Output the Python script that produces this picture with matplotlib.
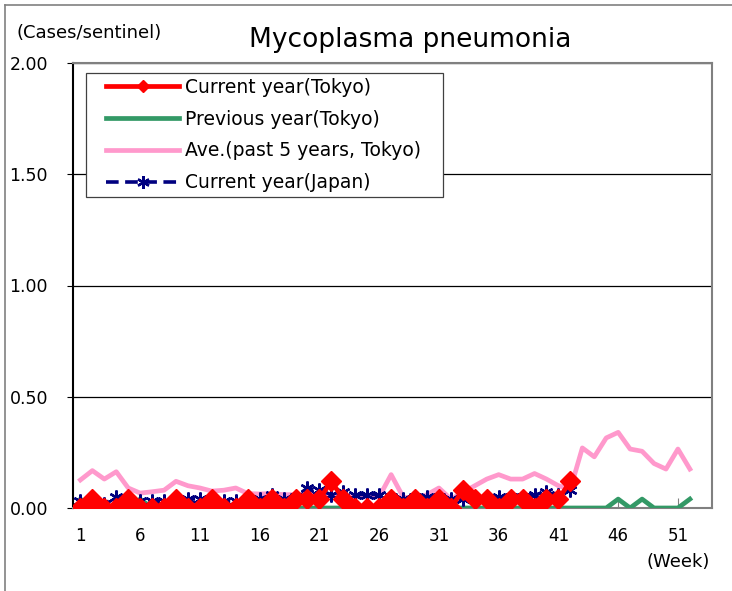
"""Mycoplasma pneumonia weekly sentinel chart (Tokyo vs Japan)."""
import matplotlib
matplotlib.use("Agg")
import matplotlib.pyplot as plt
from matplotlib.lines import Line2D
from matplotlib.patches import Rectangle

# ── Data (cases per sentinel, by week) ────────────────────────────────────────
weeks_all = list(range(1, 53))
weeks_cur = list(range(1, 43))

tokyo_current = [0.00, 0.04, 0.00, 0.00, 0.04, 0.00, 0.00, 0.00, 0.04, 0.00,
                 0.00, 0.04, 0.00, 0.00, 0.04, 0.00, 0.04, 0.00, 0.04, 0.04,
                 0.04, 0.12, 0.04, 0.00, 0.00, 0.00, 0.04, 0.00, 0.04, 0.00,
                 0.04, 0.00, 0.08, 0.04, 0.04, 0.00, 0.04, 0.04, 0.00, 0.04,
                 0.04, 0.12]

tokyo_previous = [0.04, 0.00, 0.00, 0.00, 0.00, 0.04, 0.00, 0.00, 0.00, 0.00,
                  0.00, 0.00, 0.00, 0.00, 0.00, 0.00, 0.00, 0.00, 0.00, 0.00,
                  0.00, 0.00, 0.00, 0.00, 0.00, 0.00, 0.00, 0.00, 0.00, 0.00,
                  0.00, 0.00, 0.00, 0.00, 0.00, 0.00, 0.00, 0.00, 0.00, 0.00,
                  0.00, 0.00, 0.00, 0.00, 0.00, 0.04, 0.00, 0.04, 0.00, 0.00,
                  0.00, 0.04]

tokyo_avg5 = [0.126, 0.168, 0.130, 0.163, 0.090, 0.067, 0.073, 0.080, 0.120, 0.100,
              0.090, 0.076, 0.080, 0.090, 0.065, 0.063, 0.065, 0.060, 0.060, 0.060,
              0.060, 0.062, 0.060, 0.050, 0.050, 0.050, 0.150, 0.050, 0.040, 0.060,
              0.090, 0.040, 0.070, 0.100, 0.130, 0.150, 0.130, 0.130, 0.155, 0.130,
              0.100, 0.085, 0.270, 0.230, 0.315, 0.340, 0.265, 0.255, 0.200, 0.175,
              0.265, 0.175]

japan_current = [0.03, 0.03, 0.02, 0.05, 0.03, 0.03, 0.03, 0.03, 0.03, 0.04,
                 0.04, 0.04, 0.03, 0.03, 0.04, 0.04, 0.06, 0.04, 0.05, 0.09,
                 0.08, 0.06, 0.07, 0.06, 0.06, 0.06, 0.05, 0.04, 0.05, 0.05,
                 0.05, 0.04, 0.04, 0.04, 0.04, 0.05, 0.05, 0.05, 0.06, 0.07,
                 0.06, 0.08]

x_ticks = list(range(1, 53, 5))
y_ticks = [0.0, 0.5, 1.0, 1.5, 2.0]

legend_labels = ["Current year(Tokyo)", "Previous year(Tokyo)",
                 "Ave.(past 5 years, Tokyo)", "Current year(Japan)"]

# ── Colours ───────────────────────────────────────────────────────────────────
C_RED = "#FF0000"
C_GREEN = "#339966"
C_PINK = "#FF99CC"
C_NAVY = "#000080"
C_FRAME = "#808080"

W, H = 732, 591
fig = plt.figure(figsize=(W / 100, H / 100), dpi=100)
ax = fig.add_axes([73 / W, 1 - 508 / H, (712 - 73) / W, (508 - 63) / H])

ASTER = (6, 2, 0)
DASH = (0, (3.5, 1.8))

ax.plot(weeks_all, tokyo_avg5, color=C_PINK, lw=3.4, zorder=3)
ax.plot(weeks_all, tokyo_previous, color=C_GREEN, lw=3.4, zorder=4)
ax.plot(weeks_cur, japan_current, color=C_NAVY, lw=2.4, ls=DASH,
        marker=ASTER, markersize=10, markeredgewidth=1.7, zorder=5)
ax.plot(weeks_cur, tokyo_current, color=C_RED, lw=3.4, marker="D",
        markersize=10.5, zorder=6)

ax.set_xlim(0.38, 53.85)
ax.set_ylim(0, 2)
ax.set_xticks(x_ticks)
ax.set_xticklabels([str(t) for t in x_ticks], fontsize=12)
ax.set_yticks(y_ticks)
ax.set_yticklabels([f"{v:.2f}" for v in y_ticks], fontsize=12.5)
ax.tick_params(axis="x", direction="in", length=7, color=C_FRAME, pad=14)
ax.tick_params(axis="y", direction="out", length=4, color="black", pad=14)

ax.grid(axis="y", color="black", lw=0.9)
ax.set_axisbelow(True)
for side in ("top", "right", "bottom"):
    ax.spines[side].set_color(C_FRAME)
    ax.spines[side].set_linewidth(1.5)
ax.spines["left"].set_color("black")
ax.spines["left"].set_linewidth(1.5)

# ── Legend (frame drawn separately so the handles can sit indented) ───────────
fig.patches.append(Rectangle((86 / W, 1 - 197 / H), (443 - 86) / W, (197 - 73) / H,
                             transform=fig.transFigure, facecolor="white",
                             edgecolor="#404040", lw=0.9, zorder=9))
handles = [
    Line2D([], [], color=C_RED, lw=3.4, marker="D", markersize=6),
    Line2D([], [], color=C_GREEN, lw=3.4),
    Line2D([], [], color=C_PINK, lw=3.4),
    Line2D([], [], color=C_NAVY, lw=2.6, ls=DASH, marker=ASTER,
           markersize=9, markeredgewidth=1.7),
]
leg = fig.legend(handles, legend_labels, loc="upper left",
                 bbox_to_anchor=(106 / W, 1 - 78 / H),
                 bbox_transform=fig.transFigure,
                 fontsize=13.5, frameon=False, handlelength=3.9,
                 handletextpad=0.3, labelspacing=0.68, borderpad=0,
                 borderaxespad=0, numpoints=1)
leg.set_zorder(10)

# ── Text ──────────────────────────────────────────────────────────────────────
fig.text(410 / W, 1 - 40 / H, "Mycoplasma pneumonia", ha="center", va="center",
         fontsize=19)
fig.text(17 / W, 1 - 33 / H, "(Cases/sentinel)", ha="left", va="center",
         fontsize=13)
fig.text(710 / W, 1 - 562 / H, "(Week)", ha="right", va="center", fontsize=13)

# outer chart border: only its left and top edges fall inside the picture
fig.lines.append(Line2D([5 / W, 5 / W], [0, 1 - 5 / H], transform=fig.transFigure,
                        color=C_FRAME, lw=1.2))
fig.lines.append(Line2D([5 / W, 1], [1 - 5 / H, 1 - 5 / H], transform=fig.transFigure,
                        color=C_FRAME, lw=1.2))

fig.savefig("out.png", dpi=100, facecolor="white")
